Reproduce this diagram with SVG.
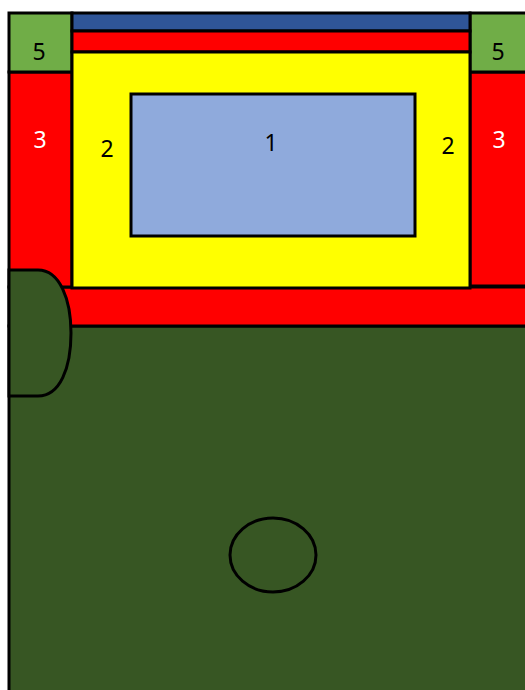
<svg xmlns="http://www.w3.org/2000/svg" width="525" height="690" viewBox="0 0 525 690">
<style>
.s{stroke:#000;stroke-width:3}
.t{font-family:"Noto Sans","Liberation Sans",sans-serif;font-size:23px;text-anchor:middle}
.w{fill:#fff}
.k{fill:#000}
</style>
<rect width="525" height="690" fill="#fff"/>
<g id="field">
<rect class="s" x="9" y="326" width="520" height="370" fill="#375623"/>
<ellipse class="s" cx="273" cy="555" rx="43" ry="37" fill="#375623"/>
</g>
<g id="band3">
<rect class="s" x="9" y="287" width="520" height="39" fill="#f00"/>
</g>
<g id="left3">
<rect class="s" x="9" y="72" width="63" height="215" fill="#f00"/>
<text class="t w" x="40" y="148">3</text>
</g>
<g id="right3">
<rect class="s" x="470" y="72" width="59" height="214" fill="#f00"/>
<text class="t w" x="499" y="148">3</text>
</g>
<g id="left5">
<rect class="s" x="9" y="13" width="63" height="59" fill="#70ad47"/>
<text class="t k" x="39" y="60">5</text>
</g>
<g id="right5">
<rect class="s" x="470" y="13" width="59" height="59" fill="#70ad47"/>
<text class="t k" x="498" y="60">5</text>
</g>
<g id="blue">
<rect class="s" x="72" y="13" width="398" height="18" fill="#2f5597"/>
</g>
<g id="redbar">
<rect class="s" x="72" y="31" width="398" height="21" fill="#f00"/>
</g>
<g id="yellow2">
<rect class="s" x="72" y="52" width="398" height="236" fill="#ff0" stroke-width="3.5"/>
<text class="t k" x="107" y="157">2</text>
<text class="t k" x="448" y="154">2</text>
</g>
<g id="inner1">
<rect class="s" x="131" y="94" width="284" height="142" fill="#8faadc"/>
<text class="t k" x="271" y="151">1</text>
</g>
<g id="goal">
<path class="s" d="M9,270 H38 C60,270 71,300 71,333 C71,368 60,396 38,396 H9 Z" fill="#375623"/>
</g>
</svg>
